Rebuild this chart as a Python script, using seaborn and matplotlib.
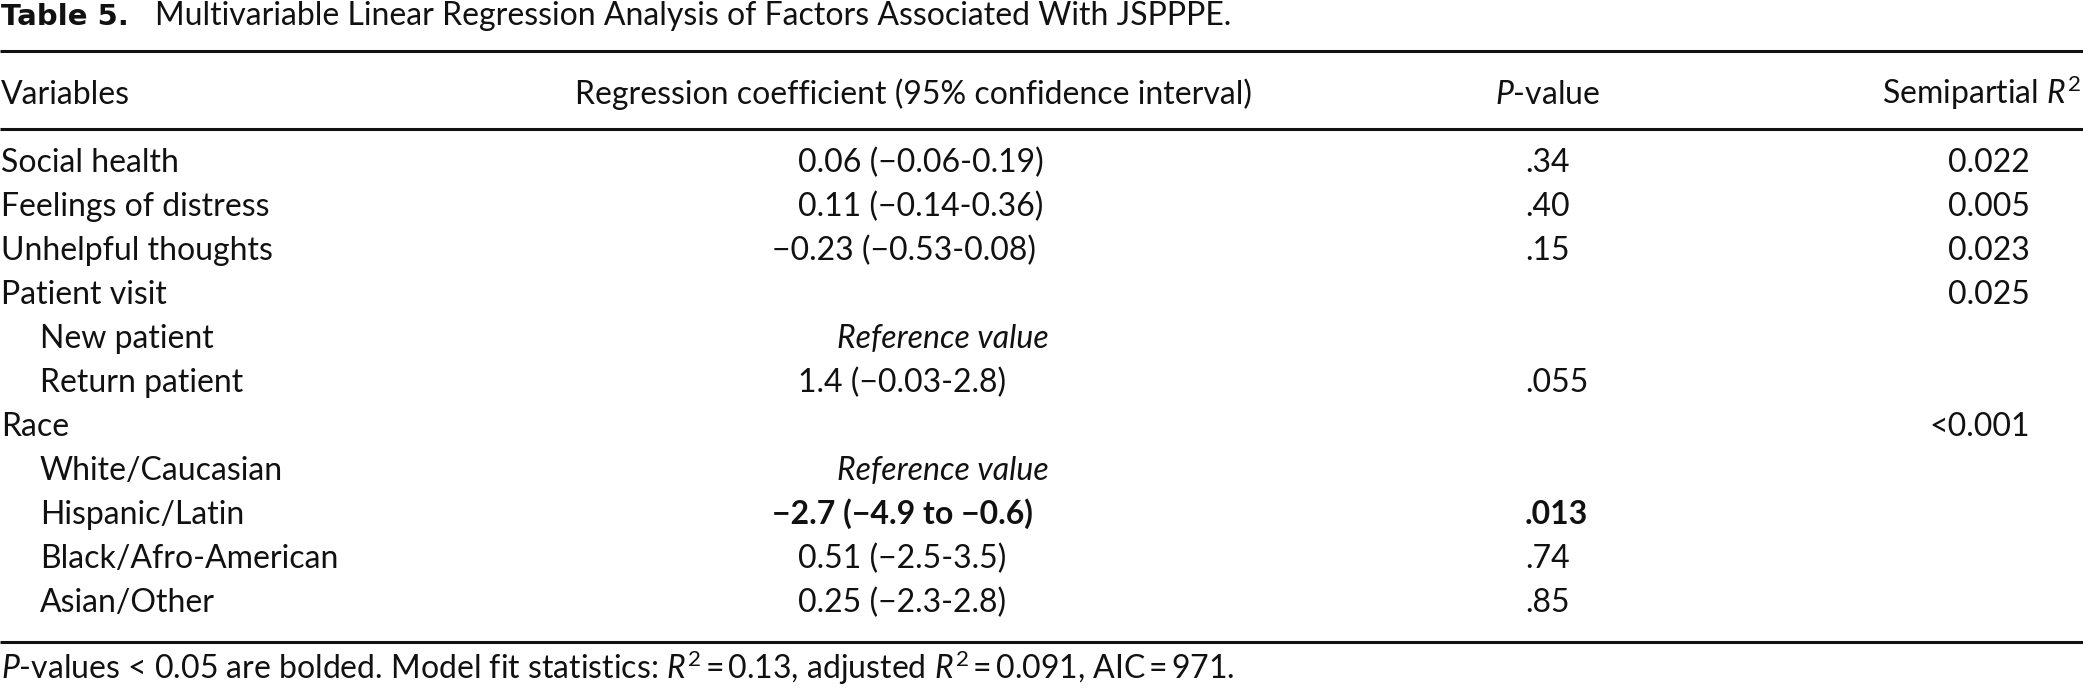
import matplotlib
matplotlib.use("Agg")
import matplotlib.pyplot as plt
import seaborn as sns

sns.set_theme(style="white")
plt.rcParams['font.family'] = ['Lato', 'DejaVu Sans']
plt.rcParams['mathtext.fontset'] = 'custom'
plt.rcParams['mathtext.rm'] = 'Lato'
plt.rcParams['mathtext.it'] = 'Lato:italic'
plt.rcParams['mathtext.bf'] = 'Lato:bold'

# table content
variables = ["Social health", "Feelings of distress", "Unhelpful thoughts", "Patient visit",
             "New patient", "Return patient", "Race", "White/Caucasian", "Hispanic/Latin",
             "Black/Afro-American", "Asian/Other"]
indented = [False, False, False, False, True, True, False, True, True, True, True]
coefs = ["0.06 (\u22120.06-0.19)", "0.11 (\u22120.14-0.36)", "\u22120.23 (\u22120.53-0.08)", "",
         "Reference value", "1.4 (\u22120.03-2.8)", "", "Reference value",
         "\u22122.7 (\u22124.9 to \u22120.6)", "0.51 (\u22122.5-3.5)", "0.25 (\u22122.3-2.8)"]
pvals = [".34", ".40", ".15", "", "", ".055", "", "", ".013", ".74", ".85"]
semipartial = ["0.022", "0.005", "0.023", "0.025", "", "", "<0.001", "", "", "", ""]
bold_rows = [False, False, False, False, False, False, False, False, True, False, False]

title_bold = "Table 5."
title_rest = "Multivariable Linear Regression Analysis of Factors Associated With JSPPPE."
headers = ["Variables", "Regression coefficient (95% confidence interval)", "$P$-value", "Semipartial $R^2$"]
footnote = ("$P$-values < 0.05 are bolded. Model fit statistics: $R^2$\u2009=\u20090.13, "
            "adjusted $R^2$\u2009=\u20090.091, AIC\u2009=\u2009971.")

W, H = 2083, 699
fig = plt.figure(figsize=(W / 100, H / 100), dpi=100)
ax = fig.add_axes([0, 0, 1, 1])
ax.set_xlim(0, W)
ax.set_ylim(H, 0)
ax.axis("off")

fs = 23
ink = "#111111"
base = dict(fontsize=fs, va="baseline", color=ink)

# title: heavier, wider bold label then the plain caption
ax.text(1, 25, title_bold, fontsize=21, fontweight="bold", family=["DejaVu Sans"],
        va="baseline", color=ink)
ax.text(155, 25, title_rest, **base)

for y in [51, 129, 642]:
    ax.plot([0, W], [y, y], color=ink, lw=2.2, solid_capstyle="butt")

hy = 104
ax.text(1, hy, headers[0], **base)
ax.text(575, hy, headers[1], **base)
ax.text(1495, hy, headers[2], **base)
ax.text(2081, hy, headers[3], ha="right", **base)

y0, dy = 172, 44
for i, name in enumerate(variables):
    y = y0 + i * dy
    wt = "bold" if bold_rows[i] else "normal"
    ax.text(40 if indented[i] else 1, y, name, **base)
    c = coefs[i]
    if c == "Reference value":
        ax.text(837, y, c, style="italic", **base)
    elif c:
        x = 772 if c.startswith("\u2212") else 798
        ax.text(x, y, c, fontweight=wt, **base)
    if pvals[i]:
        ax.text(1525, y, pvals[i], fontweight=wt, **base)
    if semipartial[i]:
        ax.text(2030, y, semipartial[i], ha="right", **base)

ax.text(1, 679, footnote, **base)

fig.savefig("out.png", dpi=100, facecolor="white")
